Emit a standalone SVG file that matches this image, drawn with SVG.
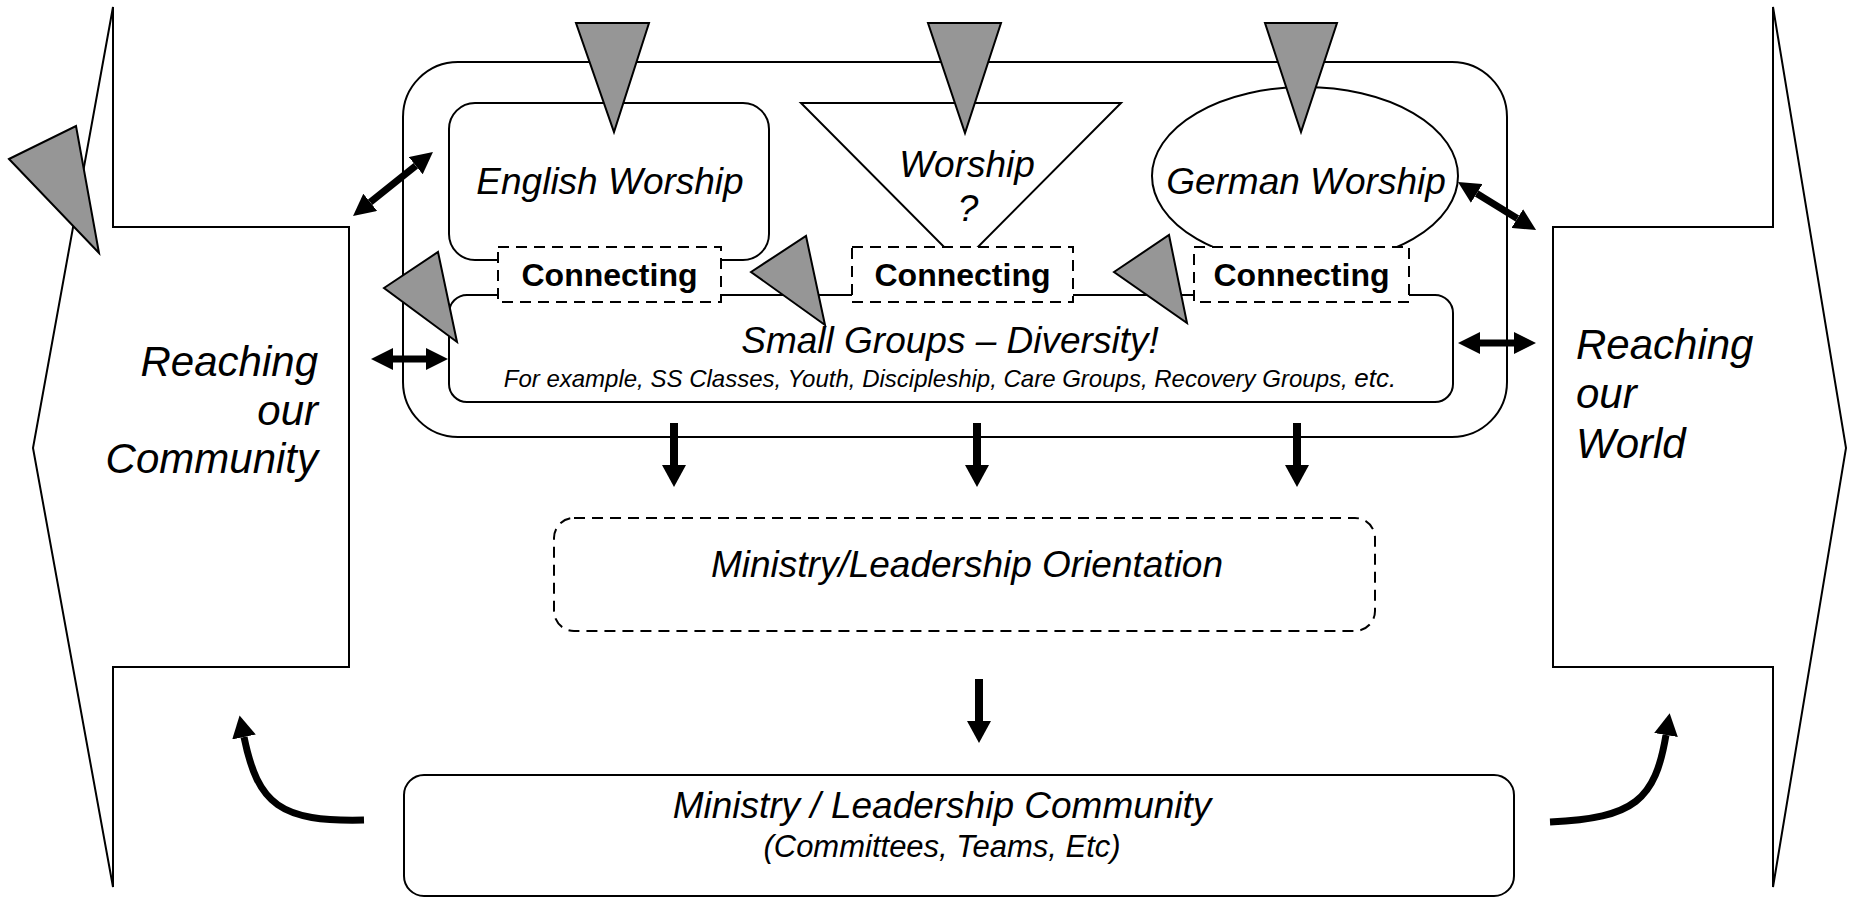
<svg xmlns="http://www.w3.org/2000/svg" width="1860" height="898" viewBox="0 0 1860 898">
<style>
.ln{fill:#fff;stroke:#000;stroke-width:2}
.dash{fill:#fff;stroke:#000;stroke-width:2;stroke-dasharray:11 7}
.gray{fill:#969696;stroke:#000;stroke-width:2;stroke-linejoin:miter}
.t{font-family:"Liberation Sans",Arial,sans-serif;font-style:italic;fill:#000}
.b{font-family:"Liberation Sans",Arial,sans-serif;font-weight:bold;fill:#000}
.arr{fill:none;stroke:#000;stroke-width:7}
.dn{fill:none;stroke:#000;stroke-width:8}
.cur{fill:none;stroke:#000;stroke-width:7}
</style>
<defs>
<marker id="ah" markerUnits="userSpaceOnUse" viewBox="0 0 22 22" refX="0" refY="11" markerWidth="22" markerHeight="22" orient="auto-start-reverse">
<path d="M0,0 L22,11 L0,22 z" fill="#000"/>
</marker>
<marker id="ah2" markerUnits="userSpaceOnUse" viewBox="0 0 22 24" refX="0" refY="12" markerWidth="22" markerHeight="24" orient="auto">
<path d="M0,0 L22,12 L0,24 z" fill="#000"/>
</marker>
</defs>
<rect width="1860" height="898" fill="#fff"/>

<g id="reach-community">
<polygon class="ln" points="113,7 113,227 349,227 349,667 113,667 113,887 33,448"/>
<text class="t" font-size="42" text-anchor="end" x="318" y="376">Reaching</text>
<text class="t" font-size="42" text-anchor="end" x="318" y="425">our</text>
<text class="t" font-size="42" text-anchor="end" x="318" y="473">Community</text>
</g>

<g id="reach-world">
<polygon class="ln" points="1773,7 1773,227 1553,227 1553,667 1773,667 1773,887 1846,448"/>
<text class="t" font-size="42" x="1576" y="359">Reaching</text>
<text class="t" font-size="42" x="1576" y="408">our</text>
<text class="t" font-size="42" x="1576" y="458">World</text>
</g>

<g id="container">
<rect class="ln" x="403" y="62" width="1104" height="375" rx="55"/>
</g>

<g id="english-worship">
<rect class="ln" x="449" y="103" width="320" height="157" rx="26"/>
<text class="t" font-size="37" text-anchor="middle" x="610" y="194">English Worship</text>
</g>

<g id="worship-q">
<polygon class="ln" points="801,103 1121,103 961,264"/>
<text class="t" font-size="37" text-anchor="middle" x="967" y="177">Worship</text>
<text class="t" font-size="37" text-anchor="middle" x="968" y="221">?</text>
</g>

<g id="german-worship">
<ellipse class="ln" cx="1305" cy="176" rx="153" ry="89"/>
<text class="t" font-size="37" text-anchor="middle" x="1306" y="194">German Worship</text>
</g>

<g id="small-groups">
<rect class="ln" x="449" y="295" width="1004" height="107" rx="18"/>
<text class="t" font-size="37" text-anchor="middle" x="950" y="353">Small Groups – Diversity!</text>
<text class="t" font-size="24" text-anchor="middle" x="950" y="387">For example, SS Classes, Youth, Discipleship, Care Groups, Recovery Groups, <tspan font-size="26">etc.</tspan></text>
</g>

<g id="connecting-1">
<rect class="dash" x="498" y="247" width="223" height="55"/>
<text class="b" font-size="32" text-anchor="middle" x="609.5" y="286">Connecting</text>
</g>
<g id="connecting-2">
<rect class="dash" x="852" y="247" width="221" height="55"/>
<text class="b" font-size="32" text-anchor="middle" x="962.5" y="286">Connecting</text>
</g>
<g id="connecting-3">
<rect class="dash" x="1194" y="247" width="215" height="55"/>
<text class="b" font-size="32" text-anchor="middle" x="1301.5" y="286">Connecting</text>
</g>

<g id="orientation">
<rect class="dash" x="554" y="518" width="821" height="113" rx="20"/>
<text class="t" font-size="37" text-anchor="middle" x="967" y="577">Ministry/Leadership Orientation</text>
</g>

<g id="leadership-community">
<rect class="ln" x="404" y="775" width="1110" height="121" rx="20"/>
<text class="t" font-size="37" text-anchor="middle" x="942" y="818">Ministry / Leadership Community</text>
<text class="t" font-size="31" text-anchor="middle" x="942" y="857">(Committees, Teams, Etc)</text>
</g>

<g id="pointers">
<polygon class="gray" points="576,23 649,23 614,132"/>
<polygon class="gray" points="928,23 1001,23 965,133"/>
<polygon class="gray" points="1265,23 1337,23 1301,132"/>
<polygon class="gray" points="9,159 76,126 99,253"/>
<polygon class="gray" points="384,288 438,252 457,342"/>
<polygon class="gray" points="751,272 806,236 825,325"/>
<polygon class="gray" points="1114,272 1169,235 1187,323"/>
</g>

<g id="connectors">
<line class="arr" x1="370.2" y1="202.3" x2="415.8" y2="165.7" marker-start="url(#ah)" marker-end="url(#ah)"/>
<line class="arr" x1="393" y1="359" x2="426" y2="359" marker-start="url(#ah)" marker-end="url(#ah)"/>
<line class="arr" x1="1476.7" y1="193.5" x2="1517.3" y2="218.5" marker-start="url(#ah)" marker-end="url(#ah)"/>
<line class="arr" x1="1480" y1="343" x2="1514" y2="343" marker-start="url(#ah)" marker-end="url(#ah)"/>
<line class="dn" x1="674" y1="423" x2="674" y2="465" marker-end="url(#ah2)"/>
<line class="dn" x1="977" y1="423" x2="977" y2="465" marker-end="url(#ah2)"/>
<line class="dn" x1="1297" y1="423" x2="1297" y2="465" marker-end="url(#ah2)"/>
<line class="dn" x1="979" y1="679" x2="979" y2="721" marker-end="url(#ah2)"/>
<path class="cur" d="M364,820 C280,822 258,805 244,737" marker-end="url(#ah2)"/>
<path class="cur" d="M1550,822 C1635,818 1655,800 1666,735" marker-end="url(#ah2)"/>
</g>
</svg>
